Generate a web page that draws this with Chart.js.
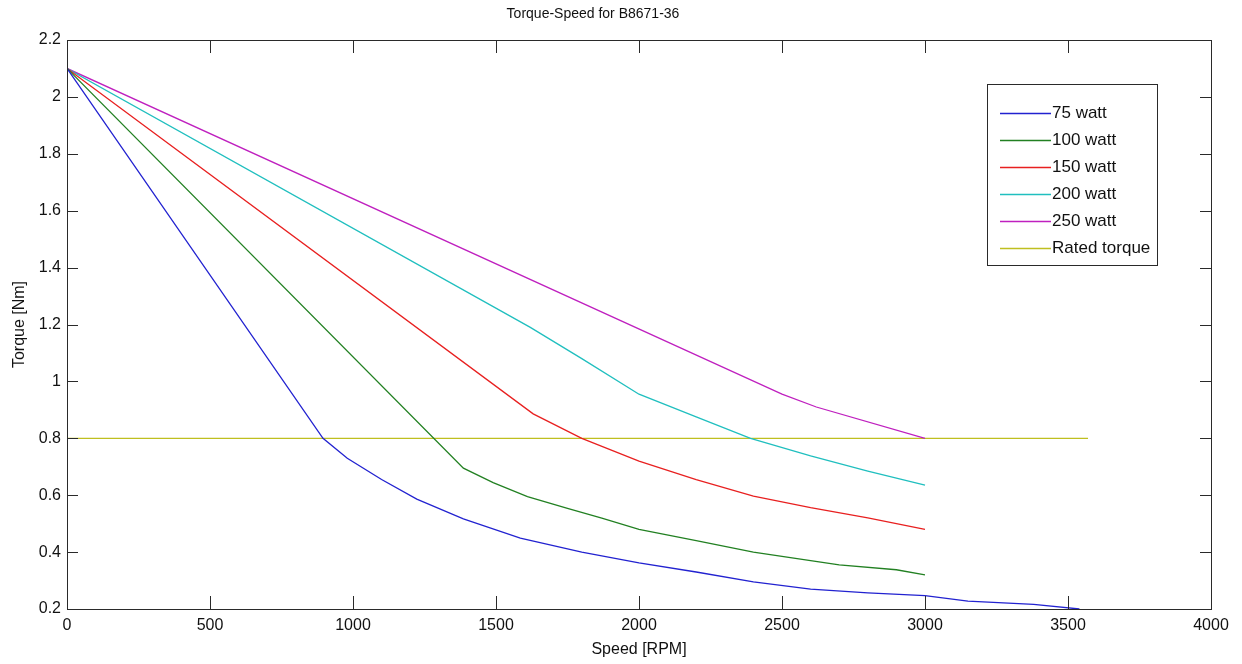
<!DOCTYPE html>
<html>
<head>
<meta charset="utf-8">
<title>Torque-Speed for B8671-36</title>
<script src="https://cdn.jsdelivr.net/npm/chart.js@4.4.1/dist/chart.umd.min.js"></script>
<style>
    body { margin: 0; background: #fff; }
    #wrap { width: 1242px; height: 664px; }
</style>
</head>
<body>
<div id="wrap"><canvas id="torqueChart" width="1242" height="664"></canvas></div>
<script>
// values
const speed75 = [0, 895, 980, 1100, 1223, 1386, 1585, 1800, 2000, 2200, 2400, 2600, 2800, 3000, 3150, 3380, 3540];
const torque75 = [2.1, 0.8, 0.73, 0.655, 0.586, 0.517, 0.449, 0.40, 0.362, 0.33, 0.295, 0.27, 0.257, 0.247, 0.228, 0.216, 0.2];

const speed100 = [0, 1386, 1490, 1610, 1750, 1870, 2000, 2200, 2400, 2600, 2700, 2900, 3000];
const torque100 = [2.1, 0.695, 0.644, 0.595, 0.554, 0.519, 0.48, 0.44, 0.40, 0.37, 0.355, 0.338, 0.32];

const speed150 = [0, 1630, 1800, 2000, 2200, 2400, 2600, 2800, 3000];
const torque150 = [2.1, 0.886, 0.80, 0.72, 0.655, 0.597, 0.556, 0.52, 0.48];

const speed200 = [0, 1620, 1800, 2000, 2200, 2390, 2600, 2800, 3000];
const torque200 = [2.1, 1.19, 1.08, 0.955, 0.875, 0.80, 0.738, 0.685, 0.635];

const speed250 = [0, 2500, 2620, 3000];
const torque250 = [2.1, 0.955, 0.91, 0.80];

const ratedSpeed = [0, 3570];
const ratedTorque = [0.8, 0.8];

const seriesLabels = ['75 watt', '100 watt', '150 watt', '200 watt', '250 watt', 'Rated torque'];
const seriesColors = ['#2222d0', '#228022', '#e82020', '#20bfbf', '#bf20bf', '#bfbf20'];

const xTicks = [0, 500, 1000, 1500, 2000, 2500, 3000, 3500, 4000];
const yTicks = [0.2, 0.4, 0.6, 0.8, 1, 1.2, 1.4, 1.6, 1.8, 2, 2.2];

const FONT = "'Liberation Sans', Arial, sans-serif";
const AXIS_COLOR = '#2a2a2a';

function toPoints(xs, ys) {
    return xs.map((x, i) => ({ x: x, y: ys[i] }));
}

const allSpeeds = [speed75, speed100, speed150, speed200, speed250, ratedSpeed];
const allTorques = [torque75, torque100, torque150, torque200, torque250, ratedTorque];

const datasets = seriesLabels.map((label, i) => ({
    label: label,
    data: toPoints(allSpeeds[i], allTorques[i]),
    borderColor: seriesColors[i],
    backgroundColor: seriesColors[i],
    borderWidth: 1.3,
    pointRadius: 0,
    tension: 0,
    showLine: true,
    fill: false
}));

// matlab-ish box, inward ticks, title and legend
const matlabFrame = {
    id: 'matlabFrame',
    afterDraw(chart) {
        const ctx = chart.ctx;
        const area = chart.chartArea;
        const xs = chart.scales.x;
        const ys = chart.scales.y;

        ctx.save();
        ctx.strokeStyle = AXIS_COLOR;
        ctx.lineWidth = 1;
        ctx.strokeRect(Math.round(area.left) + 0.5, Math.round(area.top) + 0.5,
            Math.round(area.right - area.left), Math.round(area.bottom - area.top));

        ctx.beginPath();
        xTicks.forEach(v => {
            const px = Math.round(xs.getPixelForValue(v)) + 0.5;
            ctx.moveTo(px, area.bottom);
            ctx.lineTo(px, area.bottom - 13);
            ctx.moveTo(px, area.top);
            ctx.lineTo(px, area.top + 13);
        });
        yTicks.forEach(v => {
            const py = Math.round(ys.getPixelForValue(v)) + 0.5;
            ctx.moveTo(area.left, py);
            ctx.lineTo(area.left + 11, py);
            ctx.moveTo(area.right, py);
            ctx.lineTo(area.right - 11, py);
        });
        ctx.stroke();

        // title
        ctx.fillStyle = '#111';
        ctx.font = '14px ' + FONT;
        ctx.textAlign = 'center';
        ctx.textBaseline = 'middle';
        ctx.fillText('Torque-Speed for B8671-36', 593, 14);

        // legend
        const lx = 987, ly = 84, lw = 170, lh = 181;
        ctx.fillStyle = '#fff';
        ctx.fillRect(lx, ly, lw, lh);
        ctx.strokeStyle = AXIS_COLOR;
        ctx.strokeRect(lx + 0.5, ly + 0.5, lw, lh);
        ctx.font = '17px ' + FONT;
        ctx.textAlign = 'left';
        chart.data.datasets.forEach((ds, i) => {
            const ry = ly + 29 + i * 27;
            ctx.strokeStyle = ds.borderColor;
            ctx.lineWidth = 1.3;
            ctx.beginPath();
            ctx.moveTo(lx + 13, ry + 0.5);
            ctx.lineTo(lx + 64, ry + 0.5);
            ctx.stroke();
            ctx.fillStyle = '#111';
            ctx.fillText(ds.label, lx + 65, ry);
        });
        ctx.restore();
    }
};

const config = {
    type: 'scatter',
    data: { datasets: datasets },
    options: {
        responsive: false,
        animation: false,
        devicePixelRatio: 1,
        layout: {
            padding: { left: 0, top: 40, right: 31, bottom: 0 }
        },
        plugins: {
            legend: { display: false },
            title: { display: false },
            tooltip: { enabled: false }
        },
        scales: {
            x: {
                type: 'linear',
                min: 0,
                max: 4000,
                afterFit: s => { s.height = 55; },
                afterBuildTicks: s => { s.ticks = xTicks.map(v => ({ value: v })); },
                grid: { display: false, drawTicks: false },
                border: { display: false },
                ticks: {
                    padding: 7,
                    color: '#111',
                    font: { family: FONT, size: 16 },
                    maxRotation: 0,
                    callback: v => String(v)
                },
                title: {
                    display: true,
                    text: 'Speed [RPM]',
                    color: '#111',
                    font: { family: FONT, size: 16 },
                    padding: { top: 0, bottom: 5 }
                }
            },
            y: {
                type: 'linear',
                min: 0.2,
                max: 2.2,
                afterFit: s => { s.width = 67; },
                afterBuildTicks: s => { s.ticks = yTicks.map(v => ({ value: v })); },
                grid: { display: false, drawTicks: false },
                border: { display: false },
                ticks: {
                    padding: 6,
                    color: '#111',
                    font: { family: FONT, size: 16 },
                    callback: v => String(parseFloat(v.toFixed(1)))
                },
                title: {
                    display: true,
                    text: 'Torque [Nm]',
                    color: '#111',
                    font: { family: FONT, size: 16 },
                    padding: { top: 10, bottom: 0 }
                }
            }
        }
    },
    plugins: [matlabFrame]
};

const torqueChart = new Chart(document.getElementById('torqueChart').getContext('2d'), config);
</script>
</body>
</html>
